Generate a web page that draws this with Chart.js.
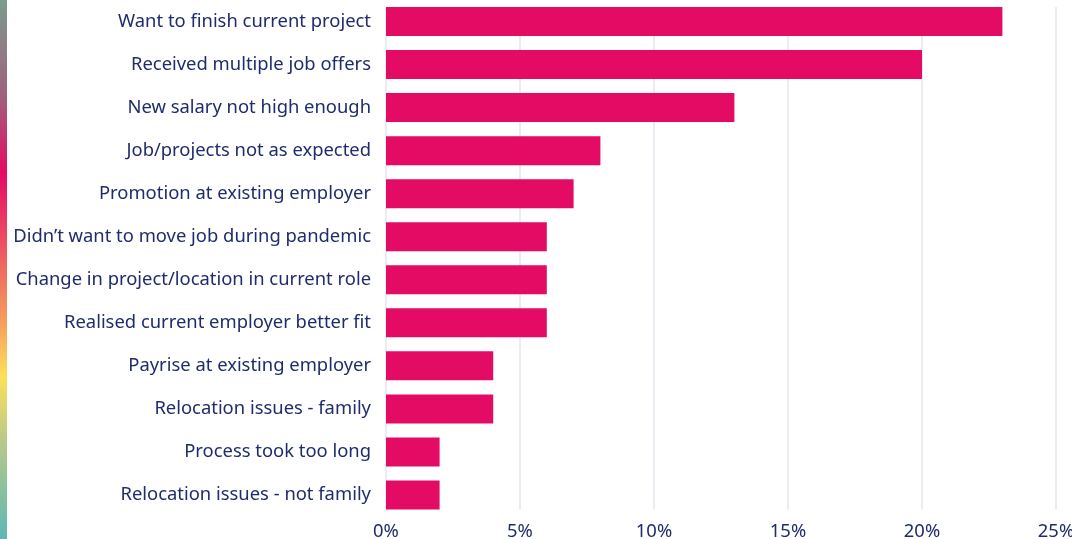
<!DOCTYPE html>
<html>
<head>
<meta charset="utf-8">
<script src="https://cdn.jsdelivr.net/npm/chart.js@4"></script>
<style>
  html, body { margin: 0; padding: 0; background: #fff; }
  .wrap { position: relative; width: 1072px; height: 539px; }
  .strip {
    position: absolute; left: 0; top: 0; width: 7px; height: 539px;
    background: linear-gradient(to bottom, #7c9c8c 0%, #a0607e 18%, #e30b63 32%, #ef5a62 47%, #f5a05c 60%, #fde05a 70%, #b8c98a 82%, #5cb8b6 100%);
  }
</style>
</head>
<body>
<div class="wrap">
  <div class="strip"></div>
  <canvas id="reasonsChart" width="1072" height="539"></canvas>
</div>
<script>
// reasons for turning down an offer, share of respondents (%)
const reasons = [
  'Want to finish current project',
  'Received multiple job offers',
  'New salary not high enough',
  'Job/projects not as expected',
  'Promotion at existing employer',
  'Didn\u2019t want to move job during pandemic',
  'Change in project/location in current role',
  'Realised current employer better fit',
  'Payrise at existing employer',
  'Relocation issues - family',
  'Process took too long',
  'Relocation issues - not family'
];
const shares = [23, 20, 13, 8, 7, 6, 6, 6, 4, 4, 2, 2];
const xTicks = [0, 5, 10, 15, 20, 25];

const navy = '#1f2c6c';
const pink = '#e30b63';
const labelFont = { family: 'Noto Sans', size: 18.4 };

// vertical grid lines only span the bars, not the whole plot area
const barGrid = {
  id: 'barGrid',
  beforeDatasetsDraw(chart) {
    const bars = chart.getDatasetMeta(0).data;
    if (!bars.length) return;
    const top = bars[0].y - bars[0].height / 2;
    const bottom = bars[bars.length - 1].y + bars[bars.length - 1].height / 2;
    const x = chart.scales.x;
    const ctx = chart.ctx;
    ctx.save();
    ctx.strokeStyle = '#e4e4ee';
    ctx.lineWidth = 1.5;
    xTicks.forEach(t => {
      const px = x.getPixelForValue(t);
      ctx.beginPath();
      ctx.moveTo(px, top);
      ctx.lineTo(px, bottom);
      ctx.stroke();
    });
    ctx.restore();
  }
};

new Chart(document.getElementById('reasonsChart'), {
  type: 'bar',
  data: {
    labels: reasons,
    datasets: [{
      data: shares,
      backgroundColor: pink,
      borderWidth: 0,
      categoryPercentage: 0.674,
      barPercentage: 1
    }]
  },
  options: {
    indexAxis: 'y',
    responsive: false,
    animation: false,
    layout: { padding: 0 },
    plugins: { legend: { display: false }, tooltip: { enabled: false } },
    scales: {
      x: {
        min: 0,
        max: 25,
        afterBuildTicks: s => { s.ticks = xTicks.map(v => ({ value: v })); },
        afterFit: s => {
          s.height = 22.5;
          s.paddingLeft = 0;
          s.paddingRight = 16;
        },
        grid: { display: false, drawTicks: false },
        border: { display: false },
        ticks: {
          padding: 4,
          color: navy,
          font: labelFont,
          callback: v => v + '%'
        }
      },
      y: {
        afterFit: s => {
          s.width = 386;
          s.paddingTop = 0;
          s.paddingBottom = 0;
        },
        grid: { display: false, drawTicks: false },
        border: { display: false },
        ticks: {
          padding: 15,
          color: navy,
          font: labelFont
        }
      }
    }
  },
  plugins: [barGrid]
});
</script>
</body>
</html>
